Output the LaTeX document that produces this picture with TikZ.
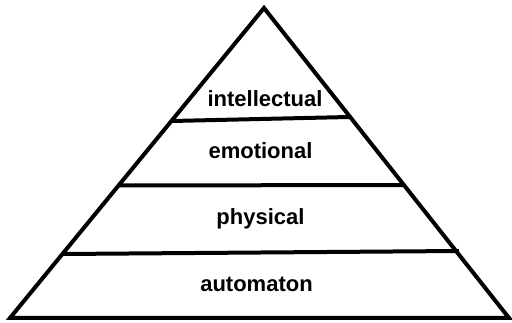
\documentclass[tikz,border=0pt]{standalone}
\usepackage{fontspec}
\setmainfont{Liberation Sans}
\tikzset{
  edge/.style={line width=4pt, black},
  level/.style={anchor=base, font=\fontsize{22}{24}\selectfont\bfseries, inner sep=0pt}
}
\begin{document}
\begin{tikzpicture}[x=1pt,y=-1pt]
\useasboundingbox (0,0) rectangle (512,323);
\coordinate (apex) at (264,8);
\coordinate (bl) at (10,318);
\coordinate (br) at (509,318);
\draw[edge, line join=miter] (bl) -- (apex) -- (br) -- cycle;
\coordinate (l1a) at (172,121);
\coordinate (l1b) at (349,117);
\coordinate (l2a) at (120,185.5);
\coordinate (l2b) at (404,185);
\coordinate (l3a) at (63,254);
\coordinate (l3b) at (459,251);
\draw[edge] (l1a) -- (l1b);
\draw[edge] (l2a) -- (l2b);
\draw[edge] (l3a) -- (l3b);
\node[level] (intellectual) at (265,107) {intellectual};
\node[level] (emotional) at (260.5,159) {emotional};
\node[level] (physical) at (260.5,225) {physical};
\node[level] (automaton) at (256.5,292) {automaton};
\end{tikzpicture}
\end{document}
